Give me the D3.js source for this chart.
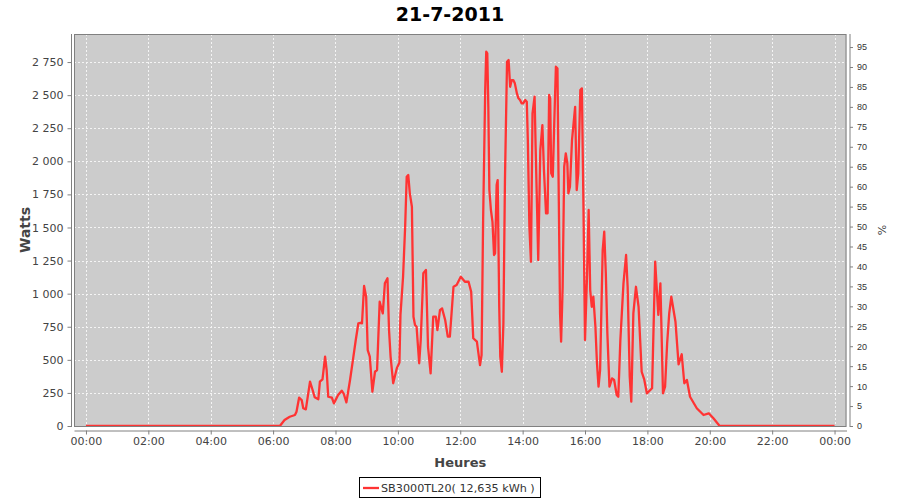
<!DOCTYPE html>
<html><head><meta charset="utf-8">
<script src="https://cdn.jsdelivr.net/npm/d3@7/dist/d3.min.js"></script>
<style>
html,body{margin:0;padding:0;background:#fff;}
svg{display:block;}
text{font-family:"DejaVu Sans",sans-serif;}
</style></head>
<body><svg id="c" width="900" height="500"></svg>
<script>
const title = "21-7-2011";
const seriesName = "SB3000TL20( 12,635 kWh )";
const times = ["00:00","06:13","06:22","06:32","06:42","06:45","06:50","06:55","06:58","07:03","07:11","07:16","07:20","07:27","07:30","07:35","07:40","07:43","07:46","07:53","07:57","08:05","08:12","08:16","08:21","08:28","08:34","08:39","08:44","08:48","08:51","08:55","08:59","09:02","09:06","09:11","09:16","09:20","09:25","09:31","09:35","09:40","09:43","09:46","09:51","09:58","10:03","10:05","10:10","10:14","10:17","10:20","10:23","10:27","10:30","10:33","10:36","10:41","10:44","10:49","10:54","10:58","11:03","11:08","11:13","11:16","11:21","11:25","11:31","11:36","11:40","11:47","11:53","12:01","12:09","12:16","12:21","12:25","12:32","12:35","12:38","12:41","12:44","12:48","12:50","12:52","12:54","12:56","12:59","13:02","13:05","13:07","13:10","13:12","13:15","13:17","13:20","13:23","13:26","13:30","13:33","13:36","13:39","13:42","13:45","13:49","13:52","13:55","13:58","14:01","14:05","14:08","14:10","14:13","14:16","14:19","14:23","14:25","14:28","14:30","14:34","14:38","14:41","14:45","14:48","14:51","14:53","14:55","14:58","15:01","15:04","15:07","15:09","15:12","15:14","15:17","15:20","15:23","15:26","15:28","15:31","15:35","15:38","15:41","15:44","15:47","15:51","15:54","15:57","16:00","16:04","16:07","16:10","16:13","16:16","16:20","16:23","16:26","16:29","16:34","16:37","16:40","16:43","16:47","16:52","16:56","17:01","17:04","17:08","17:14","17:19","17:22","17:26","17:29","17:33","17:38","17:43","17:49","17:54","17:59","18:09","18:15","18:21","18:25","18:30","18:34","18:38","18:42","18:46","18:54","19:00","19:06","19:11","19:16","19:22","19:35","19:48","19:58","20:07","20:19","24:00"];
const watts = [0,0,45,70,83,108,214,196,134,126,335,272,217,202,335,353,524,423,221,214,171,234,267,242,179,348,511,650,776,780,776,1058,977,574,524,259,410,423,939,851,1078,1116,725,524,323,436,480,839,1128,1506,1883,1896,1758,1657,826,763,750,474,650,1154,1179,599,398,826,826,725,876,889,801,675,675,1052,1065,1128,1090,1090,1015,663,637,549,461,536,1556,2538,2828,2816,2412,1783,1632,1543,1292,1305,1821,1858,901,524,410,776,1858,2752,2765,2563,2614,2614,2589,2513,2476,2463,2438,2438,2463,2450,2161,1506,1241,2362,2488,2110,1607,1254,2085,2274,1934,1607,1607,2501,2476,1909,1883,2312,2715,2702,1909,851,637,1052,1959,2060,1985,1758,1808,2161,2287,2412,1783,1909,2538,2551,1657,650,1154,1632,1027,901,977,750,474,297,423,1330,1468,1154,700,297,360,348,234,221,650,1078,1292,1052,372,184,851,1052,901,410,350,247,285,1241,839,1078,247,297,625,851,977,788,466,542,323,348,221,134,83,96,58,0,0];
const wattTicks = [0,250,500,750,1000,1250,1500,1750,2000,2250,2500,2750];
const pctTicks = [0,5,10,15,20,25,30,35,40,45,50,55,60,65,70,75,80,85,90,95];
const hourTicks = [0,2,4,6,8,10,12,14,16,18,20,22,24];

const svg = d3.select("#c");
const L = 74, R = 846.5, T = 34, B = 427;
const day = (min) => new Date(2011, 6, 21, 0, min);
const parseT = s => { const [h,m] = s.split(":").map(Number); return day(h*60+m); };
const data = times.map((t,i) => ({t: parseT(t), v: watts[i]}));

const x = d3.scaleTime().domain([day(-23.7), day(1440+23.7)]).range([L, R]);
const y = d3.scaleLinear().domain([0, 2962]).range([426, T]);
const y2 = d3.scaleLinear().domain([0, 98.27]).range([426, T]);

const loc = d3.formatLocale({decimal:",", thousands:" ", grouping:[3], currency:["",""]});
const fmt = loc.format(",d");

// title
svg.append("text").attr("x", 450).attr("y", 21).attr("text-anchor","middle")
  .style("font-size","19px").style("font-weight","bold").attr("fill","#000").text(title);

// plot bg
svg.append("rect").attr("x", L).attr("y", T).attr("width", R-L).attr("height", B-T)
  .attr("fill", "#cccccc");

// grid
const grid = svg.append("g");
wattTicks.forEach(v => grid.append("line").attr("x1", L).attr("x2", R)
  .attr("y1", Math.round(y(v))+0.5).attr("y2", Math.round(y(v))+0.5)
  .attr("stroke","#f4f4f4").attr("stroke-width",1).attr("stroke-dasharray","2,2"));
hourTicks.forEach(h => grid.append("line").attr("y1", T).attr("y2", B)
  .attr("x1", Math.round(x(day(h*60)))+0.5).attr("x2", Math.round(x(day(h*60)))+0.5)
  .attr("stroke","#f4f4f4").attr("stroke-width",1).attr("stroke-dasharray","2,2"));

// line
const clipId = "clp";
svg.append("clipPath").attr("id", clipId).append("rect").attr("x", L).attr("y", T-2).attr("width", R-L).attr("height", B-T+2);
const line = d3.line().x(d => x(d.t)).y(d => y(d.v));
svg.append("path").datum(data).attr("d", line).attr("fill","none")
  .attr("stroke","#ff3333").attr("stroke-width",2.3).attr("stroke-linejoin","round")
  .attr("clip-path", `url(#${clipId})`);

// plot border
svg.append("rect").attr("x", L+0.5).attr("y", T+0.5).attr("width", R-L-1).attr("height", B-T-1)
  .attr("fill","none").attr("stroke","#808080").attr("stroke-width",1);

// axes
function styleAxis(g, fs, fam, col) {
  g.select(".domain").attr("stroke","#808080");
  g.selectAll(".tick line").attr("stroke","#808080");
  g.selectAll(".tick text").attr("fill", col).style("font-size", fs).style("font-family", fam);
}
const ax = svg.append("g").attr("transform", `translate(0,${B+3.5})`)
  .call(d3.axisBottom(x).tickValues(hourTicks.map(h => day(h*60))).tickFormat(d3.timeFormat("%H:%M"))
    .tickSizeInner(4).tickSizeOuter(0).tickPadding(3));
styleAxis(ax, "11px", "DejaVu Sans", "#444");

const ay = svg.append("g").attr("transform", `translate(${L-2.5},0)`)
  .call(d3.axisLeft(y).tickValues(wattTicks).tickFormat(fmt).tickSizeInner(4).tickSizeOuter(0).tickPadding(4));
ay.select(".domain").attr("d", `M0,${T}V${B}`);
styleAxis(ay, "11px", "DejaVu Sans", "#444");

const ay2 = svg.append("g").attr("transform", `translate(${R+3.5},0)`)
  .call(d3.axisRight(y2).tickValues(pctTicks).tickFormat(d3.format("d")).tickSizeInner(3).tickSizeOuter(0).tickPadding(4));
ay2.select(".domain").attr("d", `M0,${T}V${B}`);
styleAxis(ay2, "9px", "Liberation Sans", "#333");

// axis labels
svg.append("text").attr("transform", "translate(30,230) rotate(-90)").attr("text-anchor","middle")
  .style("font-size","14px").style("font-weight","bold").attr("fill","#444").text("Watts");
svg.append("text").attr("transform", "translate(886,230) rotate(-90)").attr("text-anchor","middle")
  .style("font-size","11px").attr("fill","#444").text("%");
svg.append("text").attr("x", (L+R)/2).attr("y", 467).attr("text-anchor","middle")
  .style("font-size","13px").style("font-weight","bold").attr("fill","#444").text("Heures");

// legend
const lg = svg.append("g");
lg.append("rect").attr("x", 359.5).attr("y", 477.5).attr("width", 181).attr("height", 20)
  .attr("fill","#fff").attr("stroke","#000").attr("stroke-width",1);
lg.append("line").attr("x1", 363).attr("x2", 379).attr("y1", 488).attr("y2", 488)
  .attr("stroke","#ff3333").attr("stroke-width",2.3);
lg.append("text").attr("x", 381).attr("y", 492).style("font-size","11.2px").attr("fill","#333").text(seriesName);
</script></body></html>
